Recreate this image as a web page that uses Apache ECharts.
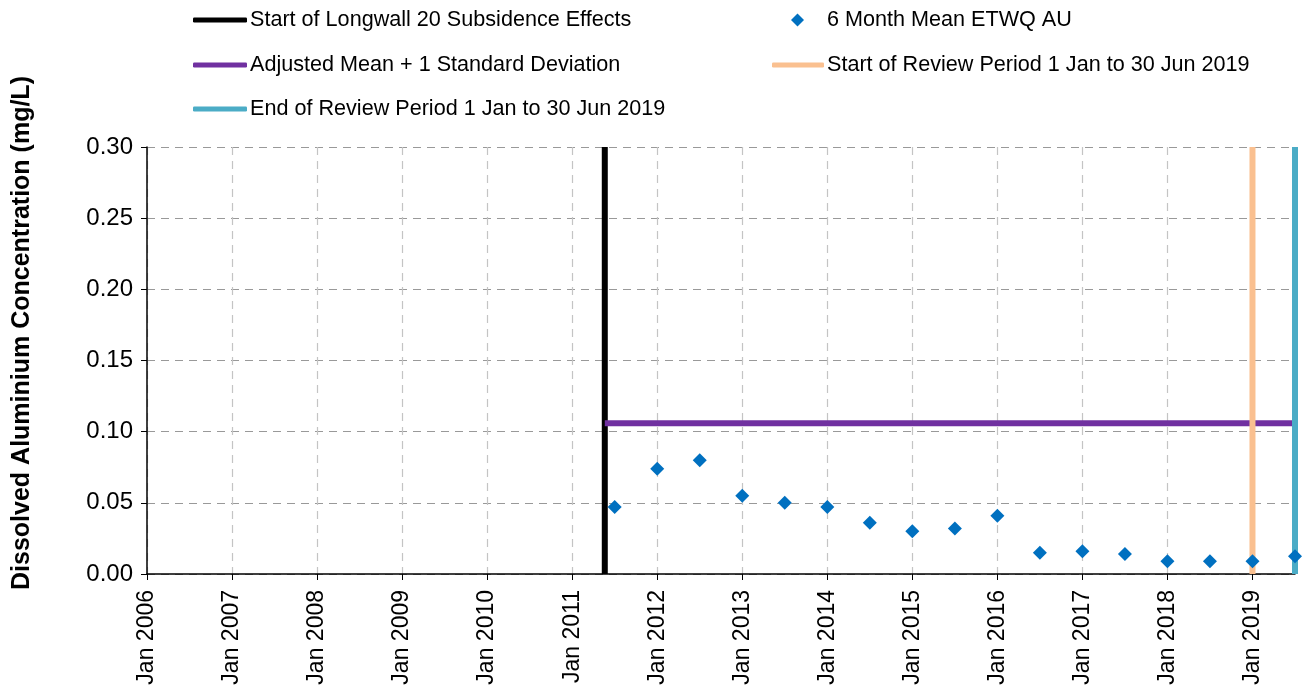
<!DOCTYPE html>
<html>
<head>
<meta charset="utf-8">
<script src="https://cdn.jsdelivr.net/npm/echarts@6/dist/echarts.min.js"></script>
<style>
  html, body { margin: 0; padding: 0; background: #fff; }
  #chart { width: 1309px; height: 695px; }
</style>
</head>
<body>
<div id="chart"></div>
<script>
// axis runs from Jan 2006, counted in months
const startYear = 2006;
const yearLabels = ['Jan 2006','Jan 2007','Jan 2008','Jan 2009','Jan 2010','Jan 2011','Jan 2012',
                    'Jan 2013','Jan 2014','Jan 2015','Jan 2016','Jan 2017','Jan 2018','Jan 2019'];

// 6 month mean dissolved aluminium (mg/L)
const sampleDates = ['2011-07','2012-01','2012-07','2013-01','2013-07','2014-01','2014-07','2015-01',
                     '2015-07','2016-01','2016-07','2017-01','2017-07','2018-01','2018-07','2019-01','2019-07'];
const meanValues = [0.047, 0.074, 0.080, 0.055, 0.050, 0.047, 0.036, 0.030,
                    0.032, 0.041, 0.015, 0.016, 0.014, 0.009, 0.009, 0.009, 0.0125];

const longwallStart = 64.6;      // ~ mid May 2011
const adjustedMeanSd = 0.106;
const reviewStart = '2019-01';
const reviewEnd = '2019-07';

function toMonths(s) {
    let p = s.split('-');
    return (parseInt(p[0]) - startYear) * 12 + (parseInt(p[1]) - 1);
}

const xMax = toMonths(reviewEnd);
const yearTicks = yearLabels.map((l, i) => i * 12);
const scatterData = sampleDates.map((d, i) => [toMonths(d), meanValues[i]]);

let chart = echarts.init(document.getElementById('chart'));

const font = 'Liberation Sans, Arial';
function legendAt(name, left, top, icon, w, h, padLeft) {
    return {
        data: [{ name: name, icon: icon }],
        left: left, top: top,
        itemWidth: w, itemHeight: h,
        itemGap: 0,
        textStyle: { fontFamily: font, fontSize: 21.6, color: '#000', padding: [0, 0, 0, padLeft] },
        selectedMode: false
    };
}

chart.setOption({
    animation: false,
    legend: [
        legendAt('Start of Longwall 20 Subsidence Effects', 188, 4, 'roundRect', 54, 5, -2),
        legendAt('Adjusted Mean + 1 Standard Deviation', 188, 49, 'roundRect', 54, 5, -2),
        legendAt('End of Review Period 1 Jan to 30 Jun 2019', 188, 93, 'roundRect', 54, 5, -2),
        legendAt('6 Month Mean ETWQ AU', 786, 4, 'diamond', 13, 13, 18),
        legendAt('Start of Review Period 1 Jan to 30 Jun 2019', 767, 49, 'roundRect', 52, 5, -2)
    ],
    graphic: [{
        type: 'text',
        x: 22, y: 333,
        rotation: Math.PI / 2,
        style: {
            text: 'Dissolved Aluminium Concentration (mg/L)',
            font: 'bold 25px Liberation Sans, Arial',
            fill: '#000',
            align: 'center', verticalAlign: 'middle'
        }
    }],
    grid: { left: 147, right: 14, top: 147, bottom: 121 },
    xAxis: {
        type: 'value',
        min: 0, max: xMax,
        axisLine: { onZero: false, lineStyle: { color: '#000', width: 1.5 } },
        axisTick: { show: true, length: 6, customValues: yearTicks, lineStyle: { color: '#000' } },
        splitLine: { show: true, lineStyle: { color: '#c4c4c4', type: [8, 6], width: 1.2 } },
        axisLabel: {
            rotate: 90, margin: 16,
            customValues: yearTicks,
            fontFamily: font, fontSize: 23, color: '#000',
            formatter: v => yearLabels[Math.round(v / 12)]
        }
    },
    yAxis: {
        type: 'value',
        min: 0, max: 0.30, interval: 0.05,
        axisLine: { show: true, lineStyle: { color: '#000', width: 1.5 } },
        axisTick: { show: true, length: 6, lineStyle: { color: '#000' } },
        splitLine: { lineStyle: { color: '#999', type: [8, 6], width: 1.2 } },
        axisLabel: {
            margin: 14,
            fontFamily: font, fontSize: 24, color: '#000',
            formatter: v => v.toFixed(2)
        }
    },
    series: [
        {
            name: 'Start of Longwall 20 Subsidence Effects',
            type: 'line', symbol: 'none', z: 3,
            lineStyle: { color: '#000', width: 6 },
            itemStyle: { color: '#000' },
            data: [[longwallStart, 0], [longwallStart, 0.30]]
        },
        {
            name: 'Adjusted Mean + 1 Standard Deviation',
            type: 'line', symbol: 'none', z: 3,
            lineStyle: { color: '#7030A0', width: 6 },
            itemStyle: { color: '#7030A0' },
            data: [[longwallStart, adjustedMeanSd], [xMax, adjustedMeanSd]]
        },
        {
            name: 'Start of Review Period 1 Jan to 30 Jun 2019',
            type: 'line', symbol: 'none', z: 3,
            lineStyle: { color: '#FAC090', width: 6 },
            itemStyle: { color: '#FAC090' },
            data: [[toMonths(reviewStart), 0], [toMonths(reviewStart), 0.30]]
        },
        {
            name: 'End of Review Period 1 Jan to 30 Jun 2019',
            type: 'line', symbol: 'none', z: 3,
            lineStyle: { color: '#4BACC6', width: 6 },
            itemStyle: { color: '#4BACC6' },
            data: [[xMax, 0], [xMax, 0.30]]
        },
        {
            name: '6 Month Mean ETWQ AU',
            type: 'scatter', symbol: 'diamond', symbolSize: 14, z: 5,
            itemStyle: { color: '#0070C0', opacity: 1 },
            data: scatterData
        }
    ]
});
</script>
</body>
</html>
